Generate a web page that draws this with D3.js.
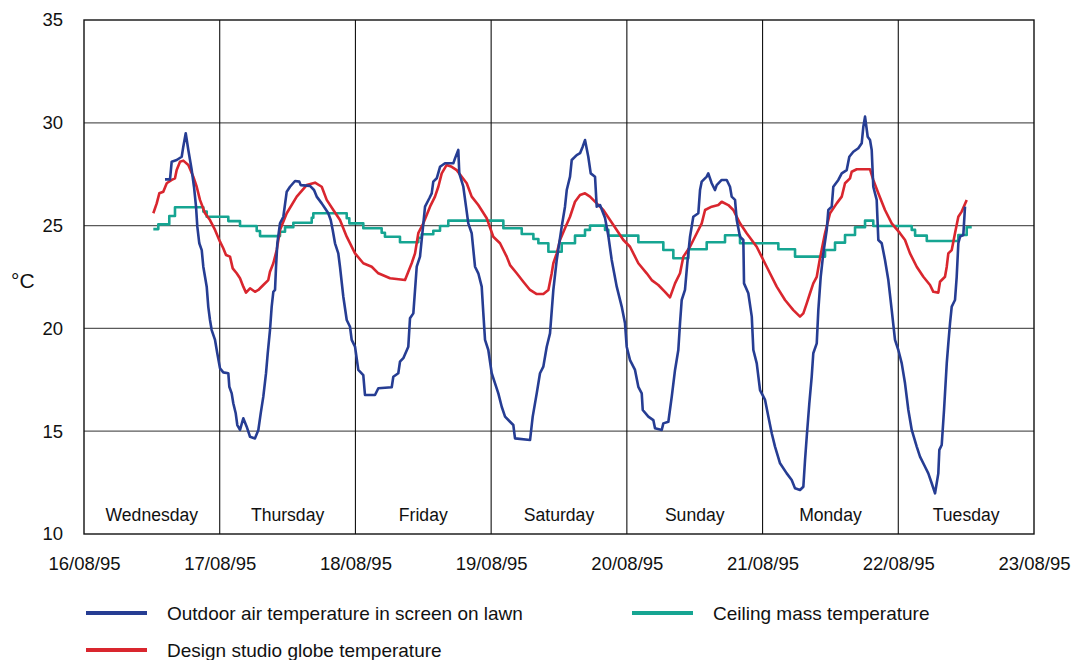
<!DOCTYPE html>
<html>
<head>
<meta charset="utf-8">
<script src="https://cdn.jsdelivr.net/npm/d3@7"></script>
<style>
  html, body { margin: 0; padding: 0; background: #fff; }
  svg { display: block; font-family: "Liberation Sans", Arial, Helvetica, sans-serif; }
</style>
</head>
<body>
<svg id="chart" width="1071" height="660"></svg>
<script>
// Readings are [hours since 16/08/95 00:00, temperature in °C]
const outdoorAir = [
  [14.32,27.25],[15.21,27.25],[15.51,28.11],[16.39,28.19],[17.28,28.35],[17.56,28.84],[17.99,29.49],
  [18.45,28.68],[18.75,28.19],[19.05,27.70],[19.45,26.89],[19.81,25.92],[20.04,24.95],[20.39,24.14],
  [20.82,23.81],[21.10,23.00],[21.40,22.51],[21.70,22.03],[21.98,21.05],[22.28,20.41],[22.58,19.92],
  [23.17,19.44],[23.57,18.79],[24.05,18.06],[24.63,17.86],[25.52,17.82],[25.70,17.16],[26.12,16.84],
  [26.40,16.36],[26.83,15.87],[27.11,15.30],[27.59,15.06],[28.17,15.63],[28.77,15.22],[29.36,14.73],
  [30.24,14.65],[30.83,15.06],[31.25,15.87],[31.71,16.68],[32.19,17.82],[32.49,18.79],[32.89,19.92],
  [33.19,21.06],[33.48,21.78],[33.78,21.87],[33.96,23.00],[34.19,24.14],[34.66,25.11],[35.25,25.43],
  [35.85,26.65],[36.43,26.89],[37.32,27.17],[38.08,27.14],[38.32,26.97],[39.97,26.93],[40.68,26.73],
  [41.15,26.41],[42.04,26.08],[42.62,25.84],[43.20,25.60],[43.63,25.27],[43.98,24.79],[44.39,24.14],
  [44.97,23.65],[45.27,23.00],[45.86,21.54],[46.46,20.41],[47.04,20.08],[47.34,19.44],[47.93,19.11],
  [48.51,17.98],[49.39,17.73],[49.69,16.76],[51.46,16.76],[52.05,17.09],[54.42,17.14],[54.70,17.65],
  [55.58,17.82],[55.88,18.38],[56.47,18.55],[57.35,19.11],[57.65,20.49],[58.24,20.73],[58.84,23.00],
  [59.42,23.49],[60.31,25.92],[61.07,26.33],[61.49,26.57],[61.77,27.14],[62.38,27.30],[62.96,27.86],
  [63.84,28.03],[65.31,28.03],[65.61,28.27],[66.19,28.68],[66.37,27.54],[67.08,26.89],[67.56,25.92],
  [67.96,25.11],[68.56,24.63],[69.15,23.00],[69.73,22.68],[70.33,22.03],[70.62,20.73],[70.92,19.44],
  [71.50,18.95],[72.10,17.82],[72.69,17.33],[73.27,16.84],[73.87,16.19],[74.46,15.71],[75.34,15.46],
  [75.92,15.30],[76.22,14.65],[78.88,14.57],[79.35,15.71],[80.06,16.84],[80.64,17.82],[81.23,18.14],
  [81.83,19.11],[82.41,19.76],[83.00,21.87],[83.60,23.33],[84.48,24.95],[85.06,25.92],[85.37,26.73],
  [85.95,27.38],[86.25,28.19],[87.13,28.43],[87.72,28.52],[88.19,28.84],[88.60,29.16],[89.18,28.35],
  [89.61,27.54],[90.37,27.38],[90.67,25.92],[91.26,26.00],[92.14,25.37],[92.73,24.49],[93.32,23.33],
  [94.21,22.03],[95.09,21.06],[95.67,20.25],[95.97,19.11],[96.56,18.46],[97.44,17.98],[98.03,17.16],
  [98.63,16.84],[98.81,16.03],[99.80,15.71],[100.68,15.54],[100.98,15.14],[102.17,15.06],[102.45,15.38],
  [103.34,15.46],[103.94,16.68],[104.52,17.98],[105.10,18.95],[105.40,20.25],[105.70,21.38],[106.28,21.87],
  [106.69,23.17],[107.17,24.46],[107.75,25.43],[108.64,25.60],[108.94,26.73],[109.24,27.14],[110.12,27.38],
  [110.40,27.54],[111.00,27.06],[111.58,26.73],[111.89,26.97],[112.77,27.22],[113.66,27.22],[114.24,26.89],
  [114.54,26.41],[115.13,26.25],[115.43,25.27],[116.01,24.46],[116.60,24.30],[116.72,22.19],[117.48,21.71],
  [118.09,20.57],[118.37,18.95],[118.97,18.30],[119.55,17.00],[120.44,16.52],[121.02,15.71],[121.62,14.90],
  [122.20,14.25],[123.09,13.44],[124.27,12.95],[125.15,12.63],[125.74,12.22],[126.62,12.14],[127.21,12.30],
  [127.51,13.60],[127.81,14.73],[128.27,16.36],[128.69,17.65],[128.97,18.79],[129.58,19.27],[129.86,20.89],
  [130.28,22.51],[130.74,23.65],[131.35,24.79],[131.63,25.76],[132.23,25.92],[132.51,26.89],[133.40,27.22],
  [134.00,27.54],[134.88,27.70],[135.34,28.35],[136.05,28.59],[136.93,28.76],[137.53,29.00],[137.82,29.81],
  [138.12,30.30],[138.59,29.32],[139.00,29.16],[139.30,28.68],[139.58,26.89],[140.18,26.25],[140.47,24.30],
  [141.07,24.14],[141.65,23.33],[142.24,22.35],[142.84,20.89],[143.42,19.44],[144.01,18.95],[144.61,18.30],
  [145.19,17.33],[145.78,16.03],[146.38,15.06],[147.26,14.25],[147.84,13.76],[148.73,13.27],[149.31,12.95],
  [149.91,12.47],[150.50,11.98],[151.08,12.95],[151.26,14.09],[151.68,14.33],[152.09,16.03],[152.57,18.30],
  [152.85,19.27],[153.15,20.25],[153.45,21.06],[154.03,21.38],[154.33,22.51],[154.62,24.14],[154.92,24.46],
  [155.50,24.54],[155.80,25.92]
];

const studioGlobe = [
  [12.26,25.60],[12.86,26.08],[13.32,26.57],[14.02,26.65],[14.63,27.06],[15.51,27.22],[16.09,27.30],
  [16.39,27.70],[16.98,28.11],[17.56,28.16],[18.45,27.95],[19.33,27.38],[19.93,26.89],[20.51,26.25],
  [21.40,25.60],[22.28,25.27],[23.17,24.79],[24.05,24.22],[24.63,23.90],[25.11,23.57],[25.82,23.49],
  [26.30,22.92],[27.00,22.68],[27.59,22.44],[28.17,22.03],[28.65,21.74],[29.36,21.95],[30.24,21.78],
  [30.83,21.87],[31.71,22.11],[32.59,22.35],[32.89,22.76],[33.48,23.17],[34.08,23.81],[34.66,24.79],
  [35.85,25.60],[37.62,26.41],[39.38,26.97],[40.85,27.09],[42.04,26.89],[42.92,26.25],[44.09,25.76],
  [45.27,25.27],[46.46,24.46],[47.93,23.65],[49.39,23.17],[50.88,23.00],[52.05,22.68],[54.12,22.44],
  [56.77,22.35],[57.35,22.76],[57.95,23.17],[58.54,23.65],[59.12,24.63],[60.01,25.11],[61.19,25.92],
  [62.07,26.41],[62.66,26.89],[63.26,27.54],[64.14,27.95],[65.03,27.86],[65.91,27.70],[66.80,27.38],
  [67.68,27.06],[68.56,26.41],[69.73,26.00],[71.22,25.36],[72.38,24.46],[73.57,24.14],[74.75,23.49],
  [75.34,23.08],[76.52,22.68],[77.69,22.27],[78.88,21.87],[80.06,21.67],[81.23,21.67],[82.12,21.87],
  [82.71,22.68],[83.00,23.17],[83.60,23.65],[84.18,24.30],[85.06,24.87],[85.95,25.43],[86.83,26.16],
  [87.72,26.49],[88.60,26.57],[89.48,26.41],[90.67,26.08],[91.84,25.76],[93.02,25.27],[94.21,24.79],
  [95.38,24.30],[96.56,23.97],[98.03,23.17],[99.51,22.68],[100.39,22.35],[101.56,22.11],[102.74,21.78],
  [103.63,21.51],[104.52,22.19],[105.40,22.68],[105.99,23.49],[107.17,23.97],[108.36,24.63],[109.24,25.11],
  [109.83,25.76],[111.00,25.92],[112.18,26.00],[112.77,26.16],[113.94,26.00],[114.83,25.76],[116.01,25.11],
  [117.19,24.63],[118.96,23.97],[120.73,23.00],[122.50,22.03],[123.97,21.38],[125.44,20.89],[126.62,20.57],
  [127.21,20.73],[127.81,21.22],[128.39,21.71],[128.97,22.19],[129.58,22.51],[130.16,23.42],[131.04,24.63],
  [131.93,25.60],[133.11,26.08],[134.00,26.41],[134.58,27.06],[135.46,27.30],[135.76,27.62],[136.65,27.74],
  [139.00,27.74],[139.58,27.22],[140.47,26.57],[141.65,25.76],[142.84,25.11],[144.30,24.63],[145.19,24.30],
  [146.07,23.65],[147.26,23.00],[148.43,22.51],[149.61,22.11],[150.20,21.78],[151.08,21.74],[151.38,22.27],
  [152.26,22.51],[152.57,23.00],[152.85,23.65],[153.45,23.81],[154.03,24.63],[154.62,25.43],[155.21,25.68],
  [156.10,26.25]
];

// Ceiling mass logger: each reading holds until the next one
const ceilingMass = [
  [12.26,24.83],[13.14,25.06],[15.08,25.47],[16.09,25.89],[21.10,25.68],[21.70,25.43],[25.52,25.22],
  [27.59,24.98],[30.54,24.74],[31.13,24.49],[34.66,24.70],[35.55,24.92],[37.02,25.14],[40.27,25.38],
  [40.55,25.60],[46.46,25.36],[46.92,25.11],[49.39,24.87],[52.64,24.65],[53.22,24.46],[55.88,24.19],
  [59.12,24.41],[59.72,24.58],[61.77,24.75],[62.96,24.98],[64.42,25.24],[74.16,24.87],[77.41,24.59],
  [79.47,24.35],[80.35,24.14],[82.12,23.73],[84.48,24.14],[86.83,24.51],[88.60,24.79],[89.48,25.00],
  [92.14,24.79],[92.73,24.51],[98.03,24.19],[102.45,23.81],[104.22,23.41],[106.87,23.85],[110.12,24.19],
  [113.36,24.53],[116.01,24.14],[122.79,23.85],[125.74,23.49],[131.04,23.81],[132.81,24.17],[134.58,24.54],
  [136.35,24.92],[138.12,25.24],[139.58,24.98],[146.38,24.79],[146.97,24.51],[149.04,24.25],[154.62,24.54],
  [156.10,24.92],[156.99,24.92]
];

const yTicks = [10, 15, 20, 25, 30, 35];
const dayNames = ["Wednesday", "Thursday", "Friday", "Saturday", "Sunday", "Monday", "Tuesday"];

const seriesInfo = [
  { name: "Outdoor air temperature in screen on lawn", data: outdoorAir, color: "#263d93", curve: d3.curveLinear },
  { name: "Design studio globe temperature", data: studioGlobe, color: "#d9262e", curve: d3.curveLinear },
  { name: "Ceiling mass temperature", data: ceilingMass, color: "#16a592", curve: d3.curveStepAfter }
];

const start = new Date(1995, 7, 16);
const end = new Date(1995, 7, 23);
const at = h => new Date(start.getTime() + h * 3600e3);
const days = d3.timeDay.range(start, d3.timeDay.offset(end, 1));

const svg = d3.select("#chart");
const plot = { left: 84, right: 1034, top: 20, bottom: 534 };

const x = d3.scaleTime().domain([start, end]).range([plot.left, plot.right]);
const y = d3.scaleLinear().domain([10, 35]).range([plot.bottom, plot.top]);

// horizontal grid
svg.append("g")
  .selectAll("line")
  .data(yTicks.filter(t => t > 10 && t < 35))
  .join("line")
  .attr("x1", plot.left).attr("x2", plot.right)
  .attr("y1", d => y(d)).attr("y2", d => y(d))
  .attr("stroke", "#5a5a5a").attr("stroke-width", 1.3);

// day separators
svg.append("g")
  .selectAll("line")
  .data(days.slice(1, -1))
  .join("line")
  .attr("x1", d => x(d)).attr("x2", d => x(d))
  .attr("y1", plot.top).attr("y2", plot.bottom)
  .attr("stroke", "#111").attr("stroke-width", 1.1);

// frame
svg.append("rect")
  .attr("x", plot.left).attr("y", plot.top)
  .attr("width", plot.right - plot.left).attr("height", plot.bottom - plot.top)
  .attr("fill", "none").attr("stroke", "#111").attr("stroke-width", 1.4);

// day names inside each day column
svg.append("g")
  .selectAll("text")
  .data(dayNames)
  .join("text")
  .attr("x", (d, i) => x(d3.timeHour.offset(days[i], 12)))
  .attr("y", 521)
  .attr("text-anchor", "middle")
  .attr("font-size", 17.6)
  .attr("fill", "#111")
  .text(d => d);

// series
const line = curve => d3.line().x(d => x(at(d[0]))).y(d => y(d[1])).curve(curve);
svg.append("g")
  .selectAll("path")
  .data([seriesInfo[2], seriesInfo[1], seriesInfo[0]])
  .join("path")
  .attr("d", s => line(s.curve)(s.data))
  .attr("fill", "none")
  .attr("stroke", s => s.color)
  .attr("stroke-width", 2.6)
  .attr("stroke-linejoin", "round");

// axes
const yAxis = svg.append("g")
  .attr("transform", `translate(${plot.left},0)`)
  .call(d3.axisLeft(y).tickValues(yTicks).tickSize(0).tickPadding(21));
yAxis.select(".domain").remove();
yAxis.selectAll("text").attr("font-size", 18.5).attr("fill", "#111")
  .attr("font-family", "'Liberation Sans', Arial, sans-serif");

const xAxis = svg.append("g")
  .attr("transform", `translate(0,${plot.bottom})`)
  .call(d3.axisBottom(x).tickValues(days.slice(0, 8)).tickFormat(d3.timeFormat("%d/%m/%y")).tickSize(0).tickPadding(23));
xAxis.select(".domain").remove();
xAxis.selectAll("text").attr("font-size", 18.5).attr("fill", "#111")
  .attr("font-family", "'Liberation Sans', Arial, sans-serif");

// unit label
svg.append("text")
  .attr("x", 11).attr("y", 288)
  .attr("font-size", 21).attr("fill", "#111")
  .text("°C");

// legend
const legendPos = [
  { x: 86, y: 613 },
  { x: 86, y: 650 },
  { x: 632, y: 613 }
];
const legend = svg.append("g")
  .selectAll("g")
  .data(seriesInfo)
  .join("g")
  .attr("transform", (d, i) => `translate(${legendPos[i].x},${legendPos[i].y})`);
legend.append("line")
  .attr("x1", 0).attr("x2", 61)
  .attr("stroke", d => d.color).attr("stroke-width", 4);
legend.append("text")
  .attr("x", 81).attr("y", 6.5)
  .attr("font-size", 19).attr("fill", "#111")
  .text(d => d.name);
</script>
</body>
</html>
